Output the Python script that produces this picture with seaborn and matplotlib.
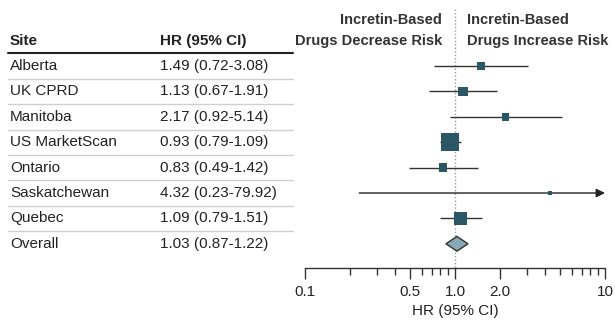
import numpy as np
import seaborn as sns
import matplotlib.pyplot as plt
import matplotlib.transforms as mtransforms

sns.set_theme(style='white')
plt.rcParams['font.family'] = ['Liberation Sans', 'DejaVu Sans']

# Data
sites = ['Alberta', 'UK CPRD', 'Manitoba', 'US MarketScan', 'Ontario',
         'Saskatchewan', 'Quebec']
hr = [1.49, 1.13, 2.17, 0.93, 0.83, 4.32, 1.09]
ci_low = [0.72, 0.67, 0.92, 0.79, 0.49, 0.23, 0.79]
ci_high = [3.08, 1.91, 5.14, 1.09, 1.42, 79.92, 1.51]
weights = [6.9, 11.3, 6.9, 45.3, 9.0, 0.6, 20.1]  # estimated from square areas
overall = (1.03, 0.87, 1.22)
tick_vals = [0.1, 0.5, 1.0, 2.0, 10]
tick_labels = ['0.1', '0.5', '1.0', '2.0', '10']

square_col = '#2b5663'
diamond_col = '#88a9b5'
fs = 11

fig = plt.figure(figsize=(6.15, 3.2), dpi=100)
ax = fig.add_axes([305 / 615, 0, 300 / 615, 1])
ax.set_xscale('log')
ax.set_xlim(0.1, 10)
ax.set_ylim(10.0, -2.6)

rows = np.arange(len(sites))

# CI whiskers
xmax = ax.get_xlim()[1]
for y, lo, hi in zip(rows, ci_low, ci_high):
    if hi > xmax:
        ax.annotate('', xy=(xmax, y), xytext=(lo, y),
                    arrowprops=dict(arrowstyle='-|>', color='#222222', lw=1,
                                    mutation_scale=13, shrinkA=0, shrinkB=0),
                    zorder=2)
    else:
        ax.hlines(y, lo, hi, color='#333333', lw=1, zorder=2)

# squares, area proportional to weight
wmin, wmax = min(weights), max(weights)
sns.scatterplot(x=hr, y=rows, size=weights, sizes=(7, 169),
                marker='s', color=square_col, edgecolor='none', legend=False,
                ax=ax, zorder=4)

# overall diamond
oy = len(sites)
est, lo, hi = overall
ax.fill([lo, est, hi, est], [oy, oy - 0.29, oy, oy + 0.29],
        facecolor=diamond_col, edgecolor='#333333', lw=1, zorder=3)

# reference line at HR = 1
ax.vlines(1.0, -2.25, 7.95, color='#999999', lw=1, linestyles=(0, (1, 1.5)), zorder=1)

# axis styling
for s in ['top', 'left', 'right']:
    ax.spines[s].set_visible(False)
ax.spines['bottom'].set_position(('data', 7.95))
ax.spines['bottom'].set_color('#333333')
ax.spines['bottom'].set_linewidth(1)
ax.set_yticks([])
ax.set_xticks(tick_vals)
ax.set_xticklabels(tick_labels)
minor = [0.2, 0.3, 0.4, 0.6, 0.7, 0.8, 0.9, 3, 4, 5, 6, 7, 8, 9]
ax.set_xticks(minor, minor=True)
ax.xaxis.set_minor_formatter(plt.NullFormatter())
ax.tick_params(axis='x', which='major', direction='out', length=8, width=1,
               color='#333333', labelsize=fs, pad=4, labelcolor='#222222',
               bottom=True)
ax.tick_params(axis='x', which='minor', direction='out', length=5, width=1,
               color='#333333', bottom=True)
ax.grid(False)
ax.patch.set_alpha(0)
ax.text(1.0, 9.65, 'HR (95% CI)', ha='center', va='center', fontsize=fs,
        color='#222222')

# headers over the plot
hfs = 10.5
ax.text(0.82, -1.8, 'Incretin-Based', ha='right', va='center', fontsize=hfs,
        fontweight='bold', color='#333333')
ax.text(0.82, -0.98, 'Drugs Decrease Risk', ha='right', va='center', fontsize=hfs,
        fontweight='bold', color='#333333')
ax.text(1.2, -1.8, 'Incretin-Based', ha='left', va='center', fontsize=hfs,
        fontweight='bold', color='#333333')
ax.text(1.2, -0.98, 'Drugs Increase Risk', ha='left', va='center', fontsize=hfs,
        fontweight='bold', color='#333333')

# table on the left
tr = mtransforms.blended_transform_factory(fig.transFigure, ax.transData)
x_site, x_hr = 10 / 615, 160 / 615
ax.text(x_site, -0.98, 'Site', transform=tr, ha='left', va='center',
        fontsize=fs, fontweight='bold', color='#222222')
ax.text(x_hr, -0.98, 'HR (95% CI)', transform=tr, ha='left', va='center',
        fontsize=fs, fontweight='bold', color='#222222')
labels = sites + ['Overall']
ests = hr + [overall[0]]
los = ci_low + [overall[1]]
his = ci_high + [overall[2]]
for i, (name, e, l, h) in enumerate(zip(labels, ests, los, his)):
    ax.text(x_site, i, name, transform=tr, ha='left', va='center',
            fontsize=fs, color='#222222')
    ax.text(x_hr, i, f'{e:.2f} ({l:.2f}-{h:.2f})', transform=tr, ha='left',
            va='center', fontsize=fs, color='#222222')

ax.plot([8 / 615, 293 / 615], [-0.5, -0.5], transform=tr, color='#222222',
        lw=1.5, clip_on=False)
for i in range(len(labels) - 1):
    ax.plot([8 / 615, 293 / 615], [i + 0.5, i + 0.5], transform=tr,
            color='#cfcfcf', lw=1, clip_on=False)

fig.savefig('out.png', dpi=100)
